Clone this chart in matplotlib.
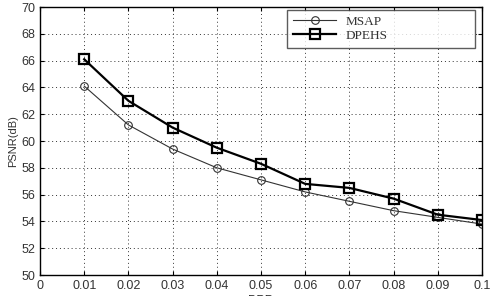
import matplotlib
matplotlib.use("Agg")
import matplotlib.pyplot as plt

bpp = [0.01, 0.02, 0.03, 0.04, 0.05, 0.06, 0.07, 0.08, 0.09, 0.10]
msap = [64.1, 61.2, 59.4, 58.0, 57.1, 56.2, 55.5, 54.8, 54.3, 53.8]
dpehs = [66.1, 63.0, 61.0, 59.5, 58.3, 56.8, 56.5, 55.7, 54.5, 54.1]
xticks = [0, 0.01, 0.02, 0.03, 0.04, 0.05, 0.06, 0.07, 0.08, 0.09, 0.1]
xticklabels = ["0", "0.01", "0.02", "0.03", "0.04", "0.05", "0.06", "0.07", "0.08", "0.09", "0.1"]
yticks = [50, 52, 54, 56, 58, 60, 62, 64, 66, 68, 70]

plt.rcParams['font.family'] = ['Liberation Sans', 'DejaVu Sans']
fig = plt.figure(figsize=(4.94, 2.96), dpi=100)
ax = fig.add_axes([40/494, 1-275/296, (482-40)/494, (275-7)/296])

ax.plot(bpp, msap, color='#333333', lw=0.8, marker='o', ms=5.5, mfc='none', mec='#333333', mew=0.8, label='MSAP')
ax.plot(bpp, dpehs, color='black', lw=1.6, marker='s', ms=6.5, mfc='none', mec='black', mew=1.6, label='DPEHS')

ax.set_xlim(0, 0.1)
ax.set_ylim(50, 70)
ax.set_xticks(xticks)
ax.set_xticklabels(xticklabels)
ax.set_yticks(yticks)
ax.tick_params(direction='in', labelsize=9, length=3, top=True, right=True,
               colors='black', labelcolor='#333333')
ax.grid(True, linestyle=(0, (1, 3)), color='#333333', lw=0.7)
for s in ax.spines.values():
    s.set_linewidth(1.0)
ax.set_xlabel('BPP', fontsize=9, color='#333333', labelpad=2)
ax.set_ylabel('PSNR(dB)', fontsize=8, color='#333333', labelpad=2)

leg = ax.legend(loc='lower left', mode='expand',
                bbox_to_anchor=(287/494, 1-48/296, 188/494, 38/296), bbox_transform=fig.transFigure,
                prop={'family': 'Liberation Serif', 'size': 9.5}, frameon=True, fancybox=False,
                edgecolor='#333333', handlelength=3.3, borderpad=0.45, labelspacing=0.15,
                handletextpad=0.7, borderaxespad=0)
leg.get_frame().set_linewidth(1.0)
for t in leg.get_texts():
    t.set_color('#333333')

fig.savefig('out.png', dpi=100)
